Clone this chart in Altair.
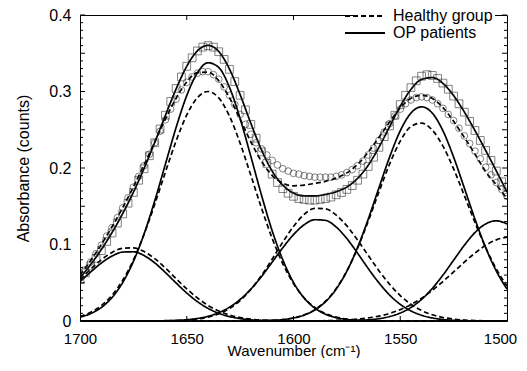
import altair as alt
import pandas as pd

# ---------------- data ----------------
wavenumber = [1700, 1695, 1690, 1685, 1680, 1675, 1670, 1665, 1660, 1655,
              1650, 1645, 1640, 1635, 1630, 1625, 1620, 1615, 1610, 1605,
              1600, 1595, 1590, 1585, 1580, 1575, 1570, 1565, 1560, 1555,
              1550, 1545, 1540, 1535, 1530, 1525, 1520, 1515, 1510, 1505, 1500]

# OP patients: fitted component bands
op_band_1677 = [0.0514, 0.0641, 0.0758, 0.0849, 0.0901, 0.0905, 0.0856, 0.0760, 0.0634, 0.0497,
                0.0366, 0.0253, 0.0165, 0.0100, 0.0058, 0.0031, 0.0016, 0.0007, 0.0003, 0.0001,
                0, 0, 0, 0, 0, 0, 0, 0, 0, 0,
                0, 0, 0, 0, 0, 0, 0, 0, 0, 0, 0]
op_band_1639 = [0.0050, 0.0097, 0.0177, 0.0307, 0.0503, 0.0778, 0.1137, 0.1571, 0.2050, 0.2528,
                0.2947, 0.3245, 0.3376, 0.3313, 0.3056, 0.2646, 0.2153, 0.1646, 0.1180, 0.0798,
                0.0504, 0.0300, 0.0168, 0.0088, 0.0044, 0.0020, 0.0009, 0.0004, 0.0001, 0,
                0, 0, 0, 0, 0, 0, 0, 0, 0, 0, 0]
op_band_1588 = [0, 0, 0, 0, 0, 0, 0.0001, 0.0002, 0.0004, 0.0008,
                0.0017, 0.0033, 0.0062, 0.0109, 0.0180, 0.0282, 0.0416, 0.0581, 0.0769, 0.0958,
                0.1129, 0.1258, 0.1324, 0.1315, 0.1228, 0.1077, 0.0887, 0.0686, 0.0499, 0.0340,
                0.0218, 0.0132, 0.0075, 0.0040, 0.0020, 0.0009, 0.0004, 0.0002, 0.0001, 0, 0]
op_band_1540 = [0, 0, 0, 0, 0, 0, 0, 0, 0, 0,
                0, 0, 0, 0, 0, 0, 0.0001, 0.0003, 0.0008, 0.0018,
                0.0039, 0.0077, 0.0143, 0.0252, 0.0417, 0.0652, 0.0960, 0.1331, 0.1740, 0.2142,
                0.2486, 0.2718, 0.2800, 0.2718, 0.2486, 0.2142, 0.1740, 0.1331, 0.0960, 0.0652, 0.0417]
op_band_1505 = [0, 0, 0, 0, 0, 0, 0, 0, 0, 0,
                0, 0, 0, 0, 0, 0, 0, 0, 0, 0,
                0, 0, 0, 0, 0.0001, 0.0003, 0.0007, 0.0015, 0.0030, 0.0058,
                0.0104, 0.0177, 0.0283, 0.0425, 0.0600, 0.0795, 0.0989, 0.1156, 0.1269, 0.1310, 0.1269]
op_fit_total = [0.0564, 0.0738, 0.0935, 0.1156, 0.1404, 0.1683, 0.1994, 0.2333, 0.2688, 0.3033,
                0.3330, 0.3531, 0.3603, 0.3522, 0.3294, 0.2959, 0.2586, 0.2237, 0.1960, 0.1775,
                0.1672, 0.1635, 0.1635, 0.1655, 0.1690, 0.1752, 0.1863, 0.2036, 0.2270, 0.2540,
                0.2808, 0.3027, 0.3158, 0.3183, 0.3106, 0.2946, 0.2733, 0.2489, 0.2230, 0.1962, 0.1686]

# Healthy group: fitted component bands
healthy_band_1677 = [0.0541, 0.0677, 0.0800, 0.0896, 0.0950, 0.0956, 0.0908, 0.0815, 0.0692, 0.0554,
                     0.0420, 0.0301, 0.0203, 0.0130, 0.0079, 0.0045, 0.0024, 0.0012, 0.0006, 0.0003,
                     0.0001, 0, 0, 0, 0, 0, 0, 0, 0, 0,
                     0, 0, 0, 0, 0, 0, 0, 0, 0, 0, 0]
healthy_band_1640 = [0.0061, 0.0114, 0.0201, 0.0336, 0.0532, 0.0797, 0.1134, 0.1526, 0.1946, 0.2352,
                     0.2693, 0.2920, 0.3000, 0.2916, 0.2678, 0.2324, 0.1906, 0.1477, 0.1081, 0.0748,
                     0.0489, 0.0302, 0.0176, 0.0097, 0.0051, 0.0025, 0.0012, 0.0005, 0.0002, 0.0001,
                     0, 0, 0, 0, 0, 0, 0, 0, 0, 0, 0]
healthy_band_1588 = [0, 0, 0, 0, 0, 0, 0, 0.0001, 0.0002, 0.0005,
                     0.0012, 0.0025, 0.0050, 0.0094, 0.0163, 0.0268, 0.0411, 0.0595, 0.0808, 0.1032,
                     0.1236, 0.1393, 0.1473, 0.1466, 0.1385, 0.1243, 0.1059, 0.0857, 0.0658, 0.0481,
                     0.0333, 0.0219, 0.0137, 0.0081, 0.0046, 0.0025, 0.0012, 0.0006, 0.0003, 0.0001, 0]
healthy_band_1541 = [0, 0, 0, 0, 0, 0, 0, 0, 0, 0,
                     0, 0, 0, 0, 0, 0.0001, 0.0002, 0.0004, 0.0009, 0.0020,
                     0.0041, 0.0081, 0.0149, 0.0259, 0.0424, 0.0654, 0.0952, 0.1305, 0.1686, 0.2051,
                     0.2352, 0.2541, 0.2587, 0.2495, 0.2286, 0.1988, 0.1642, 0.1288, 0.0960, 0.0679, 0.0456]
healthy_band_1498 = [0, 0, 0, 0, 0, 0, 0, 0, 0, 0,
                     0, 0, 0, 0, 0, 0, 0, 0, 0, 0,
                     0, 0.0001, 0.0002, 0.0004, 0.0008, 0.0014, 0.0024, 0.0040, 0.0064, 0.0099,
                     0.0149, 0.0215, 0.0298, 0.0400, 0.0516, 0.0642, 0.0769, 0.0888, 0.0989, 0.1061, 0.1097]
healthy_fit_total = [0.0602, 0.0791, 0.1001, 0.1232, 0.1482, 0.1753, 0.2042, 0.2342, 0.2640, 0.2911,
                     0.3125, 0.3246, 0.3253, 0.3140, 0.2920, 0.2638, 0.2343, 0.2088, 0.1904, 0.1803,
                     0.1767, 0.1777, 0.1800, 0.1826, 0.1868, 0.1936, 0.2047, 0.2207, 0.2400, 0.2600,
                     0.2785, 0.2910, 0.2950, 0.2910, 0.2790, 0.2610, 0.2400, 0.2182, 0.1952, 0.1780, 0.1600]

# measured spectra (markers)
marker_wavenumber = [1700, 1697.5, 1695, 1692.5, 1690, 1687.5, 1685, 1682.5, 1680, 1677.5,
                     1675, 1672.5, 1670, 1667.5, 1665, 1662.5, 1660, 1657.5, 1655, 1652.5,
                     1650, 1647.5, 1645, 1642.5, 1640, 1637.5, 1635, 1632.5, 1630, 1627.5,
                     1625, 1622.5, 1620, 1617.5, 1615, 1612.5, 1610, 1607.5, 1605, 1602.5,
                     1600, 1597.5, 1595, 1592.5, 1590, 1587.5, 1585, 1582.5, 1580, 1577.5,
                     1575, 1572.5, 1570, 1567.5, 1565, 1562.5, 1560, 1557.5, 1555, 1552.5,
                     1550, 1547.5, 1545, 1542.5, 1540, 1537.5, 1535, 1532.5, 1530, 1527.5,
                     1525, 1522.5, 1520, 1517.5, 1515, 1512.5, 1510, 1507.5, 1505, 1502.5,
                     1500]
op_measured = [0.054, 0.063, 0.072, 0.082, 0.092, 0.104, 0.115, 0.128, 0.140, 0.154,
               0.168, 0.184, 0.199, 0.216, 0.233, 0.251, 0.269, 0.287, 0.304, 0.319,
               0.333, 0.344, 0.353, 0.358, 0.360, 0.358, 0.352, 0.342, 0.329, 0.313,
               0.295, 0.276, 0.257, 0.239, 0.221, 0.206, 0.192, 0.181, 0.173, 0.167,
               0.163, 0.160, 0.159, 0.158, 0.158, 0.159, 0.160, 0.162, 0.165, 0.168,
               0.172, 0.177, 0.184, 0.192, 0.202, 0.214, 0.227, 0.241, 0.255, 0.269,
               0.283, 0.295, 0.305, 0.314, 0.320, 0.322, 0.321, 0.317, 0.311, 0.303,
               0.294, 0.284, 0.273, 0.261, 0.249, 0.236, 0.223, 0.210, 0.196, 0.182,
               0.169]
healthy_measured = [0.057, 0.067, 0.077, 0.088, 0.099, 0.111, 0.122, 0.135, 0.148, 0.161,
                    0.175, 0.189, 0.203, 0.218, 0.233, 0.248, 0.263, 0.277, 0.290, 0.302,
                    0.312, 0.319, 0.324, 0.326, 0.326, 0.322, 0.316, 0.306, 0.295, 0.283,
                    0.270, 0.257, 0.244, 0.233, 0.225, 0.217, 0.210, 0.204, 0.199, 0.196,
                    0.193, 0.192, 0.190, 0.189, 0.188, 0.188, 0.188, 0.188, 0.189, 0.191,
                    0.194, 0.198, 0.203, 0.209, 0.217, 0.226, 0.236, 0.247, 0.258, 0.268,
                    0.277, 0.284, 0.289, 0.292, 0.293, 0.292, 0.289, 0.284, 0.278, 0.270,
                    0.262, 0.252, 0.242, 0.232, 0.222, 0.212, 0.201, 0.191, 0.181, 0.172,
                    0.163]

groups = ["Healthy group", "OP patients"]
x_label_values = [1700, 1650, 1600, 1550, 1500]
x_tick_values = [1650, 1600, 1550]
y_major_values = [0, 0.05, 0.1, 0.15, 0.2, 0.25, 0.3, 0.35, 0.4]
y_minor_values = [0.01, 0.02, 0.03, 0.04, 0.06, 0.07, 0.08, 0.09,
                  0.11, 0.12, 0.13, 0.14, 0.16, 0.17, 0.18, 0.19,
                  0.21, 0.22, 0.23, 0.24, 0.26, 0.27, 0.28, 0.29,
                  0.31, 0.32, 0.33, 0.34, 0.36, 0.37, 0.38, 0.39]

# ---------------- tables ----------------
curves = [
    ("h1", groups[0], healthy_band_1677), ("h2", groups[0], healthy_band_1640),
    ("h3", groups[0], healthy_band_1588), ("h4", groups[0], healthy_band_1541),
    ("h5", groups[0], healthy_band_1498), ("hT", groups[0], healthy_fit_total),
    ("o1", groups[1], op_band_1677), ("o2", groups[1], op_band_1639),
    ("o3", groups[1], op_band_1588), ("o4", groups[1], op_band_1540),
    ("o5", groups[1], op_band_1505), ("oT", groups[1], op_fit_total),
]
rows = []
for name, grp, vals in curves:
    for w, v in zip(wavenumber, vals):
        rows.append({"w": w, "v": v, "curve": name, "group": grp})
lines_df = pd.DataFrame(rows)

op_df = pd.DataFrame({"w": marker_wavenumber, "v": op_measured})
healthy_df = pd.DataFrame({"w": marker_wavenumber, "v": healthy_measured})
ymaj_df = pd.DataFrame({"v": y_major_values})
ymin_df = pd.DataFrame({"v": y_minor_values})
xt_df = pd.DataFrame({"w": x_tick_values})

FONT = "Liberation Sans"
W, H = 427, 306

xs = alt.Scale(domain=[1500, 1700], reverse=True, nice=False, zero=False)
ys = alt.Scale(domain=[0, 0.4], nice=False, zero=False)

x_axis = alt.Axis(values=x_label_values, format="d", ticks=False, domain=False, grid=False,
                  labelFontSize=15, labelFont=FONT, labelPadding=10, labelFlush=False,
                  labelOverlap=False, labelColor="black",
                  labelOffset={"condition": {"test": "datum.value === 1500", "value": -7},
                               "value": 0},
                  title="Wavenumber (cm⁻¹)", titleFont=FONT, titleFontSize=15,
                  titleFontWeight="normal", titleColor="black",
                  titleBaseline="alphabetic", titleY=34)
y_axis = alt.Axis(values=y_major_values, format="~g", ticks=False, domain=False, grid=False,
                  labelFontSize=16, labelFont=FONT, labelPadding=9, labelFlush=False,
                  labelOverlap=False, labelColor="black",
                  title="Absorbance (counts)", titleFont=FONT, titleFontSize=16,
                  titleFontWeight="normal", titleColor="black",
                  titleBaseline="middle", titleX=-57, titleY=H / 2)

lines = alt.Chart(lines_df).mark_line(
    interpolate="monotone", strokeWidth=1.7, color="black", clip=True
).encode(
    x=alt.X("w:Q", scale=xs, axis=x_axis),
    y=alt.Y("v:Q", scale=ys, axis=y_axis),
    strokeDash=alt.StrokeDash(
        "group:N",
        scale=alt.Scale(domain=groups, range=[[5, 3], [1, 0]]),
        legend=alt.Legend(title=None, orient="none", legendX=275, legendY=-9,
                          symbolType="M-5,0H5", symbolSize=64, symbolStrokeWidth=2,
                          symbolStrokeColor="black", labelFontSize=16, labelFont=FONT,
                          labelColor="black", labelOffset=20, rowPadding=1, padding=2,
                          fillColor="white"),
    ),
    detail="curve:N",
)

squares = alt.Chart(op_df).mark_point(
    shape="square", size=60, filled=False, color="#222222", strokeWidth=0.8, clip=True
).encode(x=alt.X("w:Q", scale=xs), y=alt.Y("v:Q", scale=ys))

circles = alt.Chart(healthy_df).mark_point(
    shape="circle", size=45, filled=False, color="#222222", strokeWidth=0.8, clip=True
).encode(x=alt.X("w:Q", scale=xs), y=alt.Y("v:Q", scale=ys))

tick_style = dict(color="black", strokeWidth=1)
left_major = alt.Chart(ymaj_df).mark_rule(**tick_style).encode(
    y=alt.Y("v:Q", scale=ys), x=alt.value(0), x2=alt.value(5))
left_minor = alt.Chart(ymin_df).mark_rule(**tick_style).encode(
    y=alt.Y("v:Q", scale=ys), x=alt.value(0), x2=alt.value(3))
right_major = alt.Chart(ymaj_df).mark_rule(**tick_style).encode(
    y=alt.Y("v:Q", scale=ys), x=alt.value(W), x2=alt.value(W - 5))
right_minor = alt.Chart(ymin_df).mark_rule(**tick_style).encode(
    y=alt.Y("v:Q", scale=ys), x=alt.value(W), x2=alt.value(W - 3))
bottom_ticks = alt.Chart(xt_df).mark_rule(**tick_style).encode(
    x=alt.X("w:Q", scale=xs), y=alt.value(H), y2=alt.value(H - 5))
top_ticks = alt.Chart(xt_df).mark_rule(**tick_style).encode(
    x=alt.X("w:Q", scale=xs), y=alt.value(0), y2=alt.value(5))

chart = alt.layer(
    lines, left_major, left_minor, right_major, right_minor, bottom_ticks, top_ticks,
    circles, squares,
).properties(
    width=W, height=H,
    autosize=alt.AutoSizeParams(type="none"),
    padding={"left": 72, "top": 7, "right": 12, "bottom": 37},
    background="white",
).configure(font=FONT).configure_view(stroke="black", strokeWidth=1)

chart.save("out.html", embed_options={"renderer": "svg", "actions": False})
